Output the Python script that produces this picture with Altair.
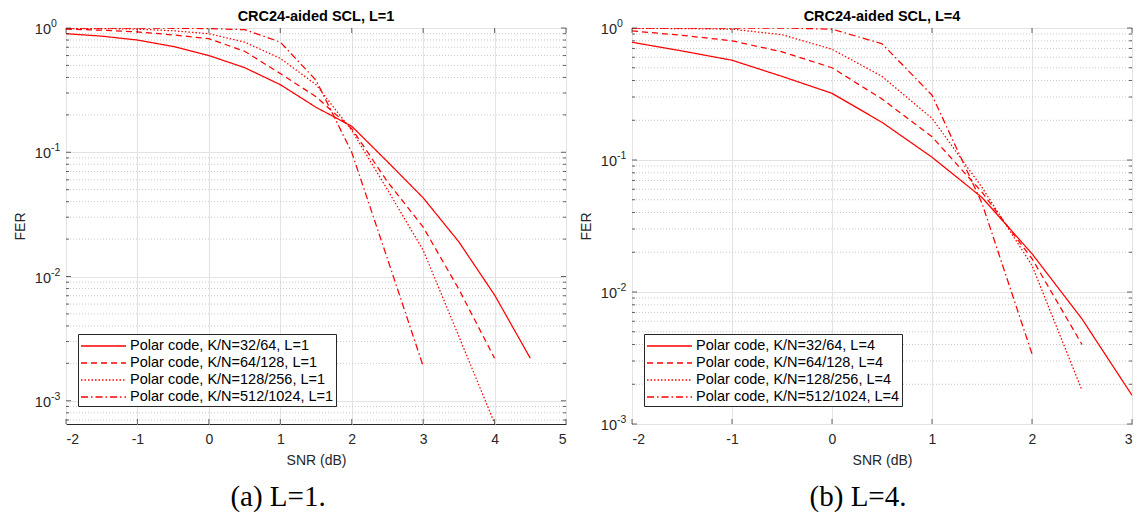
import altair as alt
import pandas as pd

# ---------------- data ----------------
snr_L1 = [-2, -1.5, -1, -0.5, 0, 0.5, 1, 1.5, 2, 2.5, 3, 3.5, 4, 4.5]
fer_L1_k32 = [0.90, 0.86, 0.80, 0.71, 0.60, 0.48, 0.35, 0.23, 0.162, 0.084, 0.043, 0.019, 0.0071, 0.0022]
fer_L1_k64 = [0.98, 0.96, 0.93, 0.88, 0.82, 0.65, 0.43, 0.28, 0.155, 0.058, 0.025, 0.0079, 0.0022]
fer_L1_k128 = [0.99, 0.99, 0.98, 0.95, 0.90, 0.77, 0.57, 0.35, 0.15, 0.050, 0.0163, 0.0033, 0.00066]
fer_L1_k512 = [1.0, 1.0, 1.0, 0.995, 0.99, 0.97, 0.77, 0.38, 0.10, 0.0139, 0.0019]

snr_L4 = [-2, -1.5, -1, -0.5, 0, 0.5, 1, 1.5, 2, 2.5, 3]
fer_L4_k32 = [0.78, 0.67, 0.57, 0.43, 0.32, 0.193, 0.105, 0.052, 0.0195, 0.00625, 0.00165]
fer_L4_k64 = [0.95, 0.88, 0.80, 0.66, 0.50, 0.29, 0.150, 0.057, 0.0179, 0.0040]
fer_L4_k128 = [0.995, 0.99, 0.98, 0.89, 0.69, 0.43, 0.207, 0.062, 0.0159, 0.0018]
fer_L4_k512 = [1.0, 1.0, 1.0, 1.0, 0.98, 0.76, 0.31, 0.047, 0.0034]

codes = ["K/N=32/64", "K/N=64/128", "K/N=128/256", "K/N=512/1024"]
names_L1 = [f"Polar code, {c}, L=1" for c in codes]
names_L4 = [f"Polar code, {c}, L=4" for c in codes]

titles = ["CRC24-aided SCL, L=1", "CRC24-aided SCL, L=4"]
captions = ["(a) L=1.", "(b) L=4."]

x_ticks_L1 = [-2, -1, 0, 1, 2, 3, 4, 5]
x_ticks_L4 = [-2, -1, 0, 1, 2, 3]
y_major = [1e-3, 1e-2, 1e-1, 1]
y_base = ["10", "10", "10", "10"]
y_exp = ["-3", "-2", "-1", "0"]
y_minor = [m * 10.0 ** e for e in (-4, -3, -2, -1) for m in range(2, 10)]

dash_range = [[1, 0], [6, 4], [1.5, 2], [7, 3, 1.5, 3]]

W, H = 500, 396
RED = "#ff0000"
AX = "#262626"
FONT = "Liberation Sans"


def make_df(snr, series, names):
    rows = []
    for name, vals in zip(names, series):
        for s, f in zip(snr, vals):
            rows.append({"snr": s, "fer": f, "series": name})
    return pd.DataFrame(rows)


def panel(df, names, xmax, xticks, ydom, title, caption, cap_x):
    xs = alt.Scale(domain=[-2, xmax], nice=False, zero=False)
    ys = alt.Scale(type="log", domain=ydom, nice=False)
    x_axis = alt.Axis(
        title="SNR (dB)", values=xticks, labelExpr="'' + datum.value",
        grid=True, gridColor="#e3e3e3", ticks=False, domain=False,
        labelPadding=8, titlePadding=7,
    )
    y_axis = alt.Axis(
        title="FER", values=y_major, grid=True, gridColor="#e3e3e3",
        ticks=False, domain=False, labels=False, titlePadding=39,
    )
    X = lambda: alt.X("snr:Q", scale=xs, axis=x_axis)
    Y = lambda: alt.Y("fer:Q", scale=ys, axis=y_axis)

    minor_vals = [v for v in y_minor if ydom[0] <= v <= ydom[1]]
    minor_df = pd.DataFrame({"fer": minor_vals})
    major_df = pd.DataFrame({"fer": y_major, "base": y_base, "exp": y_exp})
    xt_df = pd.DataFrame({"snr": xticks})

    minor_grid = alt.Chart(minor_df).mark_rule(
        color="#c8c8c8", strokeDash=[1, 2], strokeWidth=1
    ).encode(y=Y())

    lines = alt.Chart(df).mark_line(strokeWidth=1.25, color=RED, clip=True).encode(
        x=X(),
        y=Y(),
        strokeDash=alt.StrokeDash(
            "series:N",
            scale=alt.Scale(domain=names, range=dash_range),
            legend=alt.Legend(
                title=None, orient="none", legendX=12, legendY=306,
                symbolType="M-1,0H4", symbolSize=324, symbolStrokeWidth=1.3,
                symbolStrokeColor=RED, symbolFillColor="transparent",
                labelFont=FONT, labelFontSize=14.5,
                labelColor="black", strokeColor=AX, fillColor="white",
                padding=2, rowPadding=0, labelOffset=30, labelLimit=400,
            ),
        ),
    )

    tick_major_l = alt.Chart(major_df).mark_tick(color=AX, size=5, thickness=1).encode(
        y=Y(), x=alt.value(2.5))
    tick_major_r = alt.Chart(major_df).mark_tick(color=AX, size=5, thickness=1).encode(
        y=Y(), x=alt.value(W - 2.5))
    tick_minor_l = alt.Chart(minor_df).mark_tick(color=AX, size=3, thickness=1).encode(
        y=Y(), x=alt.value(1.5))
    tick_minor_r = alt.Chart(minor_df).mark_tick(color=AX, size=3, thickness=1).encode(
        y=Y(), x=alt.value(W - 1.5))
    tick_x_b = alt.Chart(xt_df).mark_tick(color=AX, size=5, thickness=1).encode(
        x=X(), y=alt.value(H - 2.5))
    tick_x_t = alt.Chart(xt_df).mark_tick(color=AX, size=5, thickness=1).encode(
        x=X(), y=alt.value(2.5))

    lab_base = alt.Chart(major_df).mark_text(
        font=FONT, fontSize=14.5, align="right", baseline="middle", color=AX,
        dy=2,
    ).encode(y=Y(), text="base:N", x=alt.value(-15))
    lab_exp = alt.Chart(major_df).mark_text(
        font=FONT, fontSize=10.5, align="left", baseline="middle", color=AX,
        dy=-4,
    ).encode(y=Y(), text="exp:N", x=alt.value(-15))

    cap = alt.Chart(pd.DataFrame({"cap": [caption]})).mark_text(
        font="Liberation Serif", fontSize=29, align="center", baseline="middle",
        color="black",
    ).encode(text="cap:N", x=alt.value(cap_x), y=alt.value(469))

    return alt.layer(
        minor_grid, lines, tick_major_l, tick_major_r, tick_minor_l,
        tick_minor_r, tick_x_b, tick_x_t, lab_base, lab_exp, cap,
    ).properties(
        width=W, height=H,
        title=alt.Title(title, font=FONT, fontSize=14.5,
                        fontWeight="bold", color="black", offset=-5),
    )


df1 = make_df(snr_L1, [fer_L1_k32, fer_L1_k64, fer_L1_k128, fer_L1_k512], names_L1)
df4 = make_df(snr_L4, [fer_L4_k32, fer_L4_k64, fer_L4_k128, fer_L4_k512], names_L4)

left = panel(df1, names_L1, 5, x_ticks_L1, [6.5e-4, 1.0], titles[0], captions[0], 212)
right = panel(df4, names_L4, 3, x_ticks_L4, [1e-3, 1.0], titles[1], captions[1], 226)

chart = alt.hconcat(left, right, spacing=11).resolve_scale(
    x="independent", y="independent", strokeDash="independent"
).resolve_legend(strokeDash="independent").properties(
    padding={"left": 4, "top": 0, "right": 2, "bottom": 2}
).configure(font=FONT).configure_view(
    stroke=AX, strokeWidth=1
).configure_axis(
    labelFont=FONT, labelFontSize=14, labelColor=AX,
    titleFont=FONT, titleFontSize=14, titleColor=AX,
    titleFontWeight="normal",
)

chart.save("out.html", embed_options={"renderer": "svg", "actions": False})
